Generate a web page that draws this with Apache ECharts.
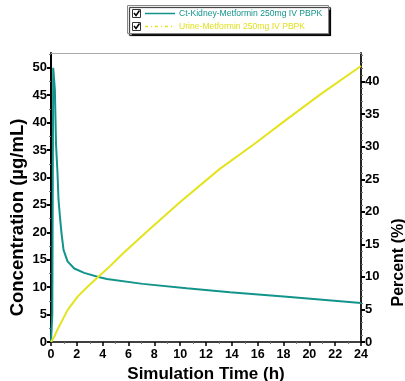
<!DOCTYPE html>
<html><head><meta charset="utf-8">
<script src="https://cdn.jsdelivr.net/npm/echarts@6/dist/echarts.min.js"></script>
<style>html,body{margin:0;padding:0;background:#fff}#c{width:405px;height:381px}</style>
</head><body><div id="c"></div>
<script>
var kidneyTime = [0, 0.1, 0.17, 0.22, 0.3, 0.39, 0.5, 0.58, 0.69, 0.81, 0.97, 1.28, 1.8, 2.57, 3.6, 4.33, 7.1, 10.5, 13.85, 18.25, 24];
var kidneyConc = [0, 5, 50, 49.8, 46, 36, 31, 26, 22.9, 19.9, 16.8, 14.7, 13.4, 12.6, 11.9, 11.5, 10.6, 9.8, 9.07, 8.27, 7.1];
var urineTime = [0, 0.12, 0.25, 0.5, 0.76, 1.28, 2.06, 2.83, 3.6, 4.33, 5.57, 7.5, 10, 13.07, 15.66, 18.25, 20.83, 24];
var urinePct = [0, 0, 0.8, 1.9, 2.9, 4.9, 6.97, 8.5, 9.9, 11.2, 13.6, 17.1, 21.5, 26.6, 30.3, 34.2, 38.0, 42.4];
var leftTicks = [0, 5, 10, 15, 20, 25, 30, 35, 40, 45, 50];
var rightTicks = [0, 5, 10, 15, 20, 25, 30, 35, 40];
var seriesNames = ['Ct-Kidney-Metformin 250mg IV PBPK', 'Urine-Metformin 250mg IV PBPK'];
var xTitle = 'Simulation Time (h)';
var yLeftTitle = 'Concentration (µg/mL)';
var yRightTitle = 'Percent (%)';

function pairs(a, b) { return a.map(function (v, i) { return [v, b[i]]; }); }
var FONT = '"Liberation Sans", Arial, sans-serif';
var TEAL = '#13948b', YEL = '#e3e31e';

var chart = echarts.init(document.getElementById('c'), null, {renderer: 'canvas'});
chart.setOption({
  animation: false,
  grid: {left: 51, right: 44, top: 53, bottom: 39, containLabel: false, outerBoundsMode: 'none'},
  graphic: [
    {type: 'rect', shape: {x: 127.5, y: 5.5, width: 201, height: 28}, style: {fill: '#fff', stroke: '#888', lineWidth: 1, shadowColor: 'rgba(0,0,0,0.9)', shadowOffsetX: 2, shadowOffsetY: 2, shadowBlur: 1}, z: 10},
    {type: 'rect', shape: {x: 132.5, y: 9.5, width: 8, height: 8}, style: {fill: '#fff', stroke: '#333', lineWidth: 1}, z: 11},
    {type: 'polyline', shape: {points: [[134, 13], [136, 15.5], [139.5, 10.5]]}, style: {stroke: '#000', lineWidth: 1.5, fill: null}, z: 11},
    {type: 'rect', shape: {x: 132.5, y: 22.5, width: 8, height: 8}, style: {fill: '#fff', stroke: '#333', lineWidth: 1}, z: 11},
    {type: 'polyline', shape: {points: [[134, 26], [136, 28.5], [139.5, 23.5]]}, style: {stroke: '#000', lineWidth: 1.5, fill: null}, z: 11},
    {type: 'line', shape: {x1: 145, y1: 13.5, x2: 175, y2: 13.5}, style: {stroke: TEAL, lineWidth: 1.5}, z: 11},
    {type: 'line', shape: {x1: 145, y1: 26.5, x2: 175, y2: 26.5}, style: {stroke: YEL, lineWidth: 1.5, lineDash: [3, 3, 1, 3]}, z: 11},
    {type: 'text', x: 179, y: 13.5, style: {text: seriesNames[0], fill: TEAL, font: '8.6px ' + FONT, verticalAlign: 'middle'}, z: 11},
    {type: 'text', x: 179, y: 26.5, style: {text: seriesNames[1], fill: '#e0e020', font: '8.6px ' + FONT, verticalAlign: 'middle'}, z: 11}
  ],
  xAxis: [{
    type: 'value', min: 0, max: 24, interval: 2,
    name: xTitle, nameLocation: 'middle', nameGap: 23,
    nameTextStyle: {fontFamily: FONT, fontWeight: 'bold', fontSize: 17, color: '#000'},
    axisLine: {onZero: false, lineStyle: {color: '#000', width: 1.5}},
    axisTick: {length: 4, lineStyle: {color: '#000', width: 1.5}},
    minorTick: {show: true, splitNumber: 2, length: 2, lineStyle: {color: '#777'}},
    axisLabel: {fontFamily: FONT, fontWeight: 'bold', fontSize: 12.5, color: '#000', margin: 6},
    splitLine: {show: false}
  }, {
    type: 'value', min: 0, max: 24, position: 'top',
    axisLine: {show: true, onZero: false, lineStyle: {color: '#aaa', width: 1}},
    axisTick: {show: false}, axisLabel: {show: false}, splitLine: {show: false}
  }],
  yAxis: [{
    type: 'value', min: 0, max: 52.7, interval: 5, position: 'left',
    name: yLeftTitle, nameLocation: 'middle', nameGap: 24, nameRotate: 90, nameMoveOverlap: false,
    nameTextStyle: {fontFamily: FONT, fontWeight: 'bold', fontSize: 18.5, color: '#000', padding: [0, 40, 0, 0]},
    axisLine: {show: true, onZero: false, lineStyle: {color: '#000', width: 2}},
    axisTick: {length: 4, customValues: leftTicks, lineStyle: {color: '#000', width: 2}},
    minorTick: {show: true, splitNumber: 2, length: 2, lineStyle: {color: '#777'}},
    axisLabel: {fontFamily: FONT, fontWeight: 'bold', fontSize: 13, color: '#000', margin: 4, customValues: leftTicks},
    splitLine: {show: false}
  }, {
    type: 'value', min: 0, max: 44.4, interval: 5, position: 'right',
    name: yRightTitle, nameLocation: 'middle', nameGap: 27, nameRotate: 90,
    nameTextStyle: {fontFamily: FONT, fontWeight: 'bold', fontSize: 16, color: '#000', padding: [0, 130, 0, 0]},
    axisLine: {show: true, onZero: false, lineStyle: {color: '#222', width: 2}},
    axisTick: {length: 4, customValues: rightTicks, lineStyle: {color: '#000', width: 2}},
    minorTick: {show: true, splitNumber: 5, length: 2, lineStyle: {color: '#777'}},
    axisLabel: {fontFamily: FONT, fontWeight: 'bold', fontSize: 13, color: '#000', margin: 4, customValues: rightTicks},
    splitLine: {show: false}
  }],
  series: [{
    name: seriesNames[0], type: 'line', yAxisIndex: 0, showSymbol: false, symbol: 'none',
    lineStyle: {color: TEAL, width: 2}, itemStyle: {color: TEAL},
    data: pairs(kidneyTime, kidneyConc)
  }, {
    name: seriesNames[1], type: 'line', yAxisIndex: 1, showSymbol: false, symbol: 'none',
    lineStyle: {color: YEL, width: 2}, itemStyle: {color: YEL},
    data: pairs(urineTime, urinePct)
  }]
});
</script></body></html>
